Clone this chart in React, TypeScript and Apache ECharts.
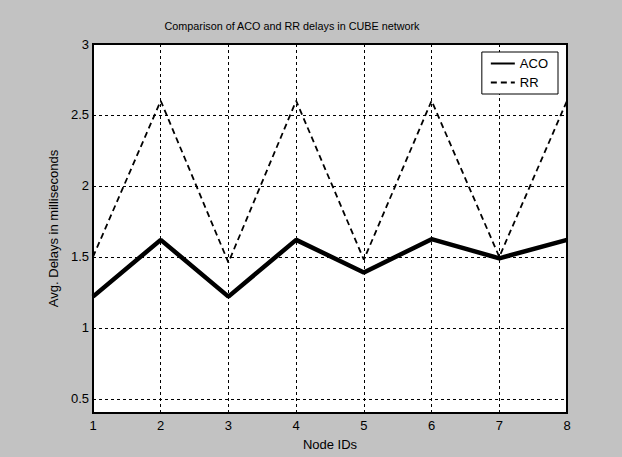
import React, { useEffect, useRef } from "react";
import * as echarts from "echarts";

const nodeIds = [1, 2, 3, 4, 5, 6, 7, 8];
const acoDelays = [1.22, 1.62, 1.22, 1.62, 1.39, 1.625, 1.49, 1.62];
const rrDelays = [1.5, 2.6, 1.46, 2.6, 1.48, 2.6, 1.5, 2.6];
const yTickValues = [0.5, 1, 1.5, 2, 2.5, 3];
const yGridValues = [0.5, 1, 1.5, 2, 2.5];

const FONT = "Liberation Sans, Arial, sans-serif";

export default function App() {
  const ref = useRef<HTMLDivElement>(null);
  useEffect(() => {
    document.body.style.margin = "0";
    if (!ref.current) return;
    const chart = echarts.init(ref.current, null, { renderer: "svg" });
    chart.setOption({
      animation: false,
      backgroundColor: "#c2c2c2",
      title: {
        text: "Comparison of ACO and RR delays in CUBE network",
        left: 287,
        textAlign: "center",
        top: 15,
        textStyle: { fontFamily: FONT, fontSize: 10.8, fontWeight: "normal", color: "#000" },
      },
      legend: {
        orient: "vertical",
        right: 64,
        top: 52,
        backgroundColor: "#fff",
        borderColor: "#000",
        borderWidth: 1,
        borderRadius: 0,
        padding: [5, 10, 5, 8],
        itemGap: 6,
        itemWidth: 24,
        itemHeight: 12,
        itemStyle: { opacity: 0 },
        textStyle: { fontFamily: FONT, fontSize: 13, color: "#000" },
        data: ["ACO", "RR"],
      },
      grid: {
        left: 93,
        right: 55,
        top: 44,
        bottom: 44,
        show: true,
        backgroundColor: "#fff",
        borderColor: "#000",
        borderWidth: 2,
      },
      xAxis: {
        type: "value",
        min: 1,
        max: 8,
        interval: 1,
        name: "Node IDs",
        nameLocation: "middle",
        nameGap: 25,
        nameTextStyle: { fontFamily: FONT, fontSize: 13, color: "#000" },
        axisLine: { show: false },
        axisTick: { show: false },
        axisLabel: { fontFamily: FONT, fontSize: 13, color: "#000", margin: 6 },
        splitLine: {
          show: true,
          lineStyle: { color: "#000", width: 1, type: [3, 3] },
        },
      },
      yAxis: {
        type: "value",
        min: 0.4,
        max: 3,
        name: "Avg. Delays in milliseconds",
        nameLocation: "middle",
        nameGap: 30,
        nameTextStyle: { fontFamily: FONT, fontSize: 13, color: "#000" },
        axisLine: { show: false },
        axisTick: { show: false },
        axisLabel: {
          fontFamily: FONT,
          fontSize: 13,
          color: "#000",
          margin: 4,
          customValues: yTickValues,
        },
        splitLine: { show: false },
      },
      series: [
        {
          name: "ACO",
          type: "line",
          data: nodeIds.map((x, i) => [x, acoDelays[i]]),
          symbol: "none",
          lineStyle: { color: "#000", width: 4.5, type: "solid" },
          itemStyle: { color: "#000" },
          z: 3,
          markLine: {
            silent: true,
            symbol: "none",
            label: { show: false },
            lineStyle: { color: "#000", width: 1, type: [3, 3] },
            data: yGridValues.map((v) => ({ yAxis: v })),
          },
        },
        {
          name: "RR",
          type: "line",
          data: nodeIds.map((x, i) => [x, rrDelays[i]]),
          symbol: "none",
          lineStyle: { color: "#000", width: 1.8, type: [6, 4] },
          itemStyle: { color: "#000" },
          z: 2,
        },
      ],
    });
    return () => chart.dispose();
  }, []);
  return <div ref={ref} style={{ width: 622, height: 457 }} />;
}
